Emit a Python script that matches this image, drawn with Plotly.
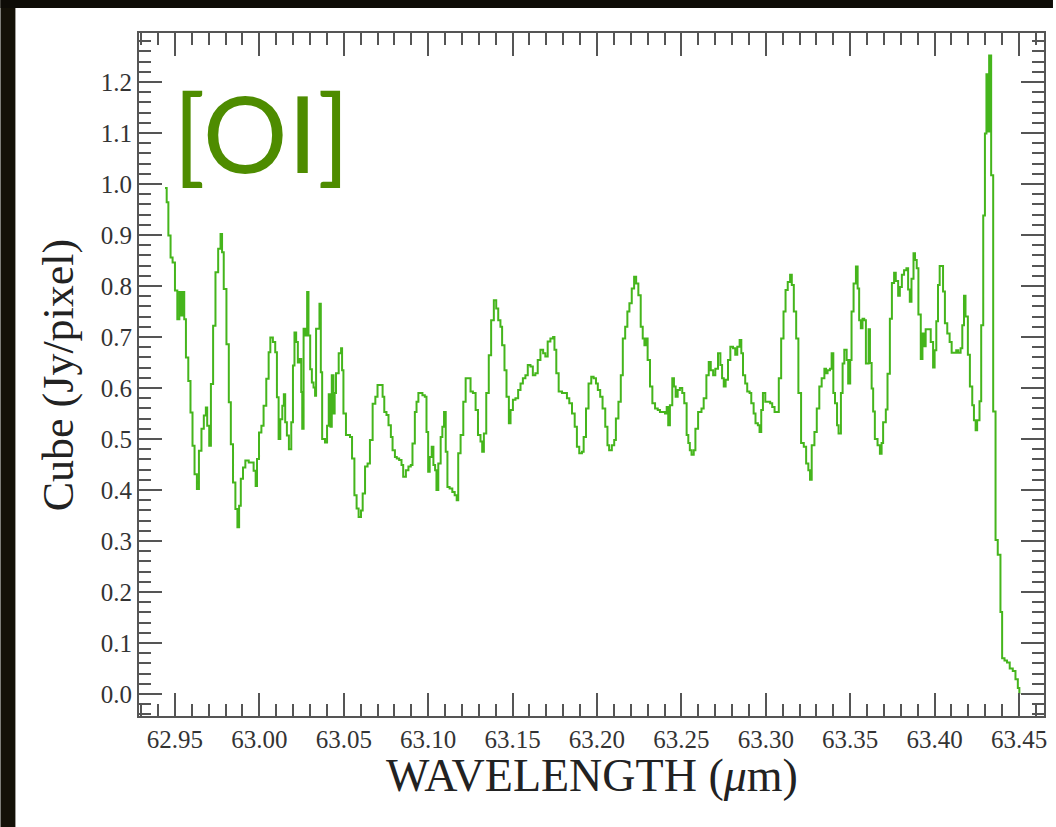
import plotly.graph_objects as go

# Wavelength (micron) and flux (Jy/pixel)
wavelength = [
    62.9441, 62.9451, 62.9461, 62.9474, 62.9486, 62.9500, 62.9514, 62.9526, 62.9535, 62.9545,
    62.9555, 62.9565, 62.9579, 62.9592, 62.9604, 62.9616, 62.9630, 62.9642, 62.9657, 62.9671,
    62.9683, 62.9691, 62.9703, 62.9713, 62.9726, 62.9740, 62.9756, 62.9770, 62.9779, 62.9789,
    62.9805, 62.9819, 62.9831, 62.9844, 62.9858, 62.9870, 62.9880, 62.9890, 62.9903, 62.9917,
    62.9937, 62.9953, 62.9966, 62.9978, 62.9986, 62.9998, 63.0012, 63.0025, 63.0041, 63.0055,
    63.0065, 63.0080, 63.0094, 63.0104, 63.0114, 63.0124, 63.0136, 63.0145, 63.0153, 63.0163,
    63.0175, 63.0189, 63.0199, 63.0208, 63.0218, 63.0228, 63.0238, 63.0248, 63.0254, 63.0262,
    63.0273, 63.0283, 63.0291, 63.0301, 63.0311, 63.0321, 63.0330, 63.0336, 63.0346, 63.0356,
    63.0364, 63.0372, 63.0389, 63.0401, 63.0411,
    63.0421, 63.0429, 63.0439, 63.0446, 63.0454, 63.0470, 63.0484, 63.0490, 63.0498, 63.0513,
    63.0537, 63.0549, 63.0563, 63.0576, 63.0588, 63.0602, 63.0612, 63.0626, 63.0641, 63.0655,
    63.0671, 63.0687, 63.0700, 63.0720, 63.0730, 63.0740, 63.0753, 63.0765, 63.0779, 63.0789,
    63.0803, 63.0814, 63.0828, 63.0842, 63.0852, 63.0868, 63.0883, 63.0897, 63.0907, 63.0921,
    63.0931, 63.0942, 63.0966, 63.0980, 63.0990, 63.1000, 63.1009, 63.1021, 63.1031, 63.1041,
    63.1049, 63.1060, 63.1074, 63.1084, 63.1094, 63.1104, 63.1114, 63.1127, 63.1143, 63.1157,
    63.1169, 63.1178, 63.1192, 63.1208, 63.1222, 63.1237, 63.1251, 63.1265, 63.1281, 63.1295,
    63.1310, 63.1320, 63.1330, 63.1344, 63.1359, 63.1373, 63.1389, 63.1403, 63.1415, 63.1428,
    63.1438, 63.1452, 63.1464, 63.1478,
    63.1488, 63.1502, 63.1517, 63.1533, 63.1547, 63.1561, 63.1576, 63.1590, 63.1606, 63.1620,
    63.1635, 63.1649, 63.1665, 63.1681, 63.1694, 63.1708, 63.1724, 63.1740, 63.1748, 63.1759,
    63.1773, 63.1793, 63.1807, 63.1822, 63.1836, 63.1852, 63.1868, 63.1881, 63.1895, 63.1911,
    63.1921, 63.1935, 63.1950, 63.1966, 63.1980, 63.1994, 63.2005, 63.2019, 63.2033, 63.2049,
    63.2062, 63.2072, 63.2088, 63.2102, 63.2112, 63.2127, 63.2141, 63.2153, 63.2167, 63.2180,
    63.2192, 63.2206, 63.2220, 63.2232, 63.2245, 63.2259, 63.2271, 63.2281, 63.2291, 63.2300,
    63.2314, 63.2328, 63.2344, 63.2360, 63.2373, 63.2389, 63.2403, 63.2413, 63.2422, 63.2432,
    63.2446, 63.2456, 63.2466, 63.2478, 63.2491, 63.2505, 63.2517, 63.2531, 63.2541,
    63.2550, 63.2560, 63.2573, 63.2583, 63.2599, 63.2619, 63.2632, 63.2648, 63.2662, 63.2674,
    63.2688, 63.2701, 63.2717, 63.2731, 63.2741, 63.2751, 63.2762, 63.2776, 63.2790, 63.2806,
    63.2819, 63.2831, 63.2845, 63.2855, 63.2865, 63.2878, 63.2890, 63.2904, 63.2914, 63.2928,
    63.2939, 63.2953, 63.2963, 63.2973, 63.2983, 63.2997, 63.3012, 63.3026, 63.3038, 63.3052,
    63.3067, 63.3077, 63.3091, 63.3105, 63.3117, 63.3130, 63.3144, 63.3154, 63.3166, 63.3180,
    63.3193, 63.3209, 63.3225, 63.3239, 63.3252, 63.3262, 63.3272, 63.3288, 63.3302, 63.3317,
    63.3331, 63.3347, 63.3357, 63.3366, 63.3380, 63.3390, 63.3400, 63.3410, 63.3422, 63.3431,
    63.3445, 63.3455, 63.3465, 63.3479, 63.3488, 63.3500, 63.3508, 63.3520, 63.3534, 63.3544,
    63.3553, 63.3563, 63.3573, 63.3583, 63.3593,
    63.3609, 63.3617, 63.3627, 63.3636, 63.3646, 63.3662, 63.3676, 63.3686, 63.3695, 63.3711,
    63.3721, 63.3735, 63.3747, 63.3760, 63.3770, 63.3784, 63.3794, 63.3806, 63.3819, 63.3833,
    63.3843, 63.3853, 63.3863, 63.3875, 63.3884, 63.3894, 63.3904, 63.3918, 63.3928, 63.3938,
    63.3947, 63.3967, 63.3977, 63.3991, 63.4000, 63.4010, 63.4020, 63.4030, 63.4040, 63.4050,
    63.4061, 63.4075, 63.4089, 63.4101, 63.4115, 63.4128, 63.4140, 63.4154, 63.4164, 63.4174,
    63.4183, 63.4197, 63.4209, 63.4223, 63.4233, 63.4243, 63.4252, 63.4266, 63.4276, 63.4288,
    63.4298, 63.4307, 63.4315, 63.4323, 63.4335, 63.4347, 63.4361, 63.4374, 63.4390, 63.4400,
    63.4414, 63.4429, 63.4445, 63.4463, 63.4479, 63.4493, 63.4502,
]

flux = [
    0.992, 0.964, 0.899, 0.856, 0.846, 0.791, 0.735, 0.788, 0.742, 0.788,
    0.735, 0.660, 0.614, 0.552, 0.487, 0.431, 0.402, 0.477, 0.520, 0.546,
    0.562, 0.526, 0.487, 0.608, 0.722, 0.827, 0.873, 0.902, 0.866, 0.794,
    0.686, 0.572, 0.490, 0.415, 0.363, 0.327, 0.369, 0.422, 0.444, 0.458,
    0.454, 0.454, 0.438, 0.408, 0.461, 0.513, 0.526, 0.565, 0.618, 0.670,
    0.699, 0.690, 0.670, 0.582, 0.500, 0.539, 0.565, 0.588, 0.533, 0.507,
    0.480, 0.533, 0.644, 0.709, 0.690, 0.650, 0.657, 0.592, 0.520, 0.716,
    0.703, 0.788, 0.703, 0.637, 0.611, 0.601, 0.585, 0.716, 0.716, 0.765,
    0.631, 0.500, 0.493, 0.526, 0.588,
    0.524, 0.625, 0.550, 0.590, 0.629, 0.668, 0.678, 0.635, 0.550, 0.508,
    0.504, 0.462, 0.390, 0.364, 0.347, 0.360, 0.393, 0.446, 0.452, 0.498,
    0.569, 0.583, 0.606, 0.606, 0.583, 0.553, 0.547, 0.527, 0.504, 0.478,
    0.465, 0.462, 0.459, 0.449, 0.426, 0.439, 0.446, 0.449, 0.491, 0.553,
    0.573, 0.590, 0.586, 0.583, 0.514, 0.436, 0.465, 0.485, 0.449, 0.439,
    0.400, 0.452, 0.504, 0.524, 0.553, 0.475, 0.406, 0.403, 0.396, 0.390,
    0.380, 0.472, 0.508, 0.573, 0.619, 0.619, 0.593, 0.590, 0.557, 0.508,
    0.495, 0.475, 0.511, 0.590, 0.664, 0.733, 0.772, 0.756, 0.733, 0.720,
    0.684, 0.635, 0.583, 0.531,
    0.557, 0.577, 0.580, 0.596, 0.609, 0.619, 0.625, 0.645, 0.642, 0.625,
    0.629, 0.655, 0.675, 0.668, 0.662, 0.691, 0.697, 0.700, 0.675, 0.629,
    0.593, 0.590, 0.590, 0.580, 0.570, 0.550, 0.524, 0.485, 0.472, 0.475,
    0.504, 0.560, 0.609, 0.622, 0.619, 0.609, 0.596, 0.583, 0.560, 0.524,
    0.488, 0.478, 0.488, 0.498, 0.540, 0.573, 0.625, 0.697, 0.720, 0.750,
    0.766, 0.795, 0.818, 0.805, 0.782, 0.720, 0.697, 0.684, 0.697, 0.655,
    0.603, 0.570, 0.560, 0.557, 0.553, 0.553, 0.550, 0.563, 0.527, 0.566,
    0.619, 0.603, 0.583, 0.596, 0.600, 0.590, 0.570, 0.508, 0.492,
    0.478, 0.469, 0.478, 0.520, 0.553, 0.560, 0.580, 0.625, 0.651, 0.635,
    0.625, 0.638, 0.668, 0.645, 0.619, 0.603, 0.616, 0.655, 0.681, 0.678,
    0.665, 0.681, 0.694, 0.668, 0.625, 0.609, 0.593, 0.590, 0.570, 0.550,
    0.531, 0.527, 0.514, 0.557, 0.590, 0.573, 0.573, 0.570, 0.563, 0.553,
    0.553, 0.619, 0.697, 0.750, 0.792, 0.808, 0.822, 0.802, 0.750, 0.697,
    0.590, 0.492, 0.485, 0.452, 0.439, 0.420, 0.488, 0.514, 0.560, 0.603,
    0.619, 0.638, 0.629, 0.635, 0.638, 0.668, 0.590, 0.570, 0.527, 0.511,
    0.590, 0.648, 0.675, 0.655, 0.609, 0.655, 0.750, 0.805, 0.838, 0.795,
    0.733, 0.717, 0.736, 0.733, 0.648,
    0.715, 0.649, 0.599, 0.554, 0.500, 0.488, 0.471, 0.492, 0.533, 0.558,
    0.628, 0.736, 0.806, 0.826, 0.810, 0.781, 0.798, 0.822, 0.831, 0.835,
    0.793, 0.769, 0.814, 0.864, 0.851, 0.835, 0.744, 0.657, 0.707, 0.682,
    0.715, 0.715, 0.690, 0.640, 0.674, 0.731, 0.802, 0.839, 0.839, 0.789,
    0.727, 0.707, 0.690, 0.669, 0.669, 0.674, 0.669, 0.678, 0.723, 0.781,
    0.740, 0.665, 0.603, 0.566, 0.537, 0.517, 0.537, 0.574, 0.723, 0.938,
    1.099, 1.215, 1.103, 1.252, 1.017, 0.554, 0.302, 0.273, 0.161, 0.070,
    0.066, 0.062, 0.050, 0.045, 0.029, 0.012, 0.000,
]

x_title = "WAVELENGTH (<i>μ</i>m)"
y_title = "Cube (Jy/pixel)"
label_text = "[OI]"

W, H = 1056, 827
L, R, T, B = 139, 1047, 33, 716
pw, ph = R - L, B - T


def px(xp):
    return (xp - L) / pw


def py(yp):
    return (B - yp) / ph


axis_col = "#555555"
tick_font = dict(family="Liberation Serif, Times New Roman, serif", size=25, color="#333333")

fig = go.Figure()
fig.add_trace(go.Scatter(
    x=wavelength, y=flux, mode="lines",
    line=dict(color="#45b51c", width=2, shape="hv"),
    showlegend=False, hoverinfo="skip",
))

common = dict(
    showgrid=False, zeroline=False, showline=True, linecolor=axis_col, linewidth=2,
    mirror="ticks", ticks="inside", ticklen=23, tickwidth=2, tickcolor=axis_col,
    tickfont=tick_font,
)

fig.update_layout(
    width=W, height=H,
    margin=dict(l=L, r=W - R, t=T, b=H - B, pad=0),
    paper_bgcolor="white", plot_bgcolor="white",
    xaxis=dict(
        range=[62.9287, 63.4648], tick0=62.95, dtick=0.05, tickformat=".2f",
        minor=dict(tick0=62.95, dtick=0.01, ticks="inside", ticklen=12, tickwidth=2, tickcolor=axis_col),
        **common,
    ),
    yaxis=dict(
        range=[-0.043, 1.296], tick0=0, dtick=0.1, tickformat=".1f",
        minor=dict(tick0=0, dtick=0.02, ticks="inside", ticklen=12, tickwidth=2, tickcolor=axis_col),
        **common,
    ),
    annotations=[
        dict(text=x_title, xref="paper", yref="paper", x=0.5, y=py(776),
             xanchor="center", yanchor="middle", showarrow=False,
             font=dict(family="Liberation Serif, Times New Roman, serif", size=46, color="#222222")),
        dict(text=y_title, xref="paper", yref="paper", x=px(58), y=py(375),
             xanchor="center", yanchor="middle", showarrow=False, textangle=-90,
             font=dict(family="Liberation Serif, Times New Roman, serif", size=44, color="#222222")),
        dict(text=label_text, xref="paper", yref="paper", x=px(171), y=py(66),
             xanchor="left", yanchor="top", showarrow=False,
             font=dict(family="Lato, Noto Sans, sans-serif", size=106, color="#4e8c00")),
    ],
    shapes=[
        dict(type="rect", xref="paper", yref="paper", x0=px(0), x1=px(15), y0=py(H), y1=py(0),
             fillcolor="#141108", line=dict(width=0), layer="above"),
        dict(type="rect", xref="paper", yref="paper", x0=px(0), x1=px(W), y0=py(8), y1=py(0),
             fillcolor="#0e0c07", line=dict(width=0), layer="above"),
    ],
)

fig.write_html("out.html")
